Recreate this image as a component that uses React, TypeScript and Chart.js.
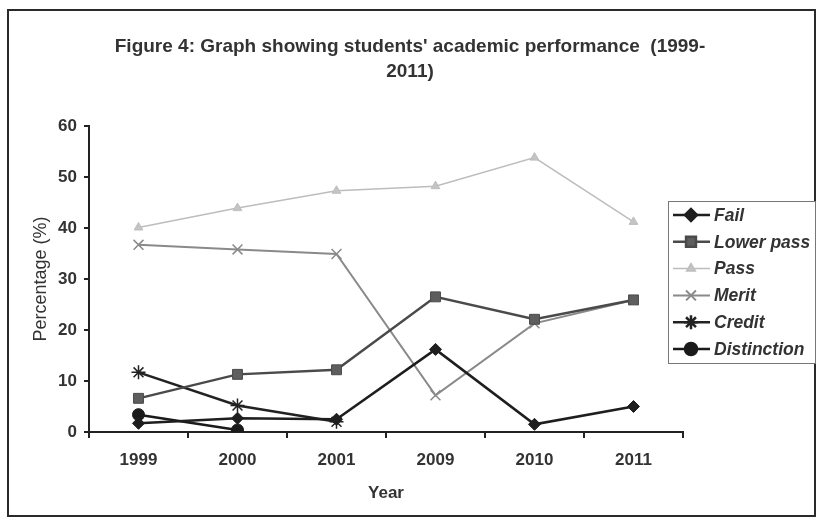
import React, { useEffect, useRef } from 'react';
import { Chart, registerables } from 'chart.js';
import { drawPoint } from 'chart.js/helpers';

Chart.register(...registerables);

const years = ['1999', '2000', '2001', '2009', '2010', '2011'];
const fail = [1.7, 2.7, 2.5, 16.2, 1.5, 5.0];
const lowerPass = [6.6, 11.3, 12.2, 26.5, 22.1, 25.9];
const pass = [40.1, 43.9, 47.3, 48.2, 53.8, 41.2];
const merit = [36.7, 35.8, 34.9, 7.2, 21.3, 25.9];
const credit = [11.7, 5.2, 2.0, null, null, null];
const distinction = [3.4, 0.4, null, null, null, null];
const yMin = 0;
const yMax = 60;
const yStep = 10;
const titleLines = ["Figure 4: Graph showing students' academic performance  (1999-", '2011)'];
const xTitle = 'Year';
const yTitle = 'Percentage (%)';

const TEXT = '#333333';

const framePlugin = {
  id: 'frameAndTitle',
  beforeDraw(chart: any) {
    const ctx = chart.ctx;
    ctx.save();
    ctx.fillStyle = '#ffffff';
    ctx.fillRect(0, 0, chart.width, chart.height);
    ctx.restore();
  },
  afterDraw(chart: any) {
    const ctx = chart.ctx;
    ctx.save();
    // outer frame
    ctx.strokeStyle = '#2a2a2a';
    ctx.lineWidth = 2;
    ctx.strokeRect(8, 10, 807, 506);
    // title
    ctx.fillStyle = TEXT;
    ctx.font = 'bold 19px "Liberation Sans", Arial, sans-serif';
    ctx.textAlign = 'center';
    ctx.textBaseline = 'middle';
    ctx.fillText(titleLines[0], 410, 47);
    ctx.fillText(titleLines[1], 410, 72);
    // legend
    const lx = 668, ly = 201, lw = 147, lh = 162;
    ctx.fillStyle = '#ffffff';
    ctx.fillRect(lx, ly, lw, lh);
    ctx.strokeStyle = '#777777';
    ctx.lineWidth = 1;
    ctx.strokeRect(lx + 0.5, ly + 0.5, lw, lh);
    chart.data.datasets.forEach((ds: any, i: number) => {
      const y = 215 + i * 26.8;
      ctx.strokeStyle = ds.borderColor;
      ctx.lineWidth = ds.borderWidth;
      ctx.beginPath();
      ctx.moveTo(673, y);
      ctx.lineTo(710, y);
      ctx.stroke();
      ctx.fillStyle = ds.pointBackgroundColor;
      ctx.strokeStyle = ds.pointBorderColor;
      drawPoint(ctx, { pointStyle: ds.pointStyle, radius: ds.pointRadius, borderWidth: ds.pointBorderWidth, rotation: 0 }, 691, y);
      ctx.fillStyle = TEXT;
      ctx.font = 'italic bold 17.5px "Liberation Sans", Arial, sans-serif';
      ctx.textAlign = 'left';
      ctx.textBaseline = 'middle';
      ctx.fillText(ds.label, 714, y + 1);
    });
    ctx.restore();
  },
};

function mk(label: string, data: any[], color: string, width: number, style: string, radius: number, fill: string, pbw: number) {
  return {
    label,
    data,
    borderColor: color,
    borderWidth: width,
    backgroundColor: fill,
    pointStyle: style,
    pointRadius: radius,
    pointBackgroundColor: fill,
    pointBorderColor: color,
    pointBorderWidth: pbw,
    tension: 0,
    spanGaps: false,
  };
}

export default function App() {
  const ref = useRef<HTMLCanvasElement>(null);
  useEffect(() => {
    document.body.style.margin = '0';
    const chart = new Chart(ref.current as HTMLCanvasElement, {
      type: 'line',
      data: {
        labels: years,
        datasets: [
          mk('Fail', fail, '#1e1e1e', 2.5, 'rectRot', 6, '#1e1e1e', 1),
          mk('Lower pass', lowerPass, '#4a4a4a', 2.5, 'rect', 7, '#5e5e5e', 1),
          mk('Pass', pass, '#bdbdbd', 1.5, 'triangle', 5, '#c4c4c4', 1),
          mk('Merit', merit, '#8a8a8a', 2, 'crossRot', 7, '#8a8a8a', 1.5),
          mk('Credit', credit, '#222222', 2.5, 'star', 7, '#222222', 1.5),
          mk('Distinction', distinction, '#1a1a1a', 2.5, 'circle', 6, '#1a1a1a', 1),
        ] as any,
      },
      options: {
        animation: false,
        responsive: false,
        layout: { padding: { top: 126, right: 137, left: 0, bottom: 0 } },
        plugins: { legend: { display: false }, title: { display: false }, tooltip: { enabled: false } },
        scales: {
          x: {
            type: 'category',
            offset: true,
            afterFit: (s: any) => { s.height = 89; },
            grid: { offset: true, drawOnChartArea: false, drawTicks: true, tickLength: 6, color: '#222', lineWidth: 2 },
            border: { color: '#222', width: 2 },
            ticks: { color: TEXT, padding: 12, font: { family: '"Liberation Sans", Arial, sans-serif', size: 17, weight: 'bold' } },
            title: { display: true, text: xTitle, color: TEXT, padding: { top: 0, bottom: 17 }, font: { family: '"Liberation Sans", Arial, sans-serif', size: 17, weight: 'bold' } },
          },
          y: {
            min: yMin,
            max: yMax,
            afterFit: (s: any) => { s.width = 89; },
            grid: { drawOnChartArea: false, drawTicks: true, tickLength: 5, color: '#222', lineWidth: 2 },
            border: { color: '#222', width: 2 },
            ticks: { stepSize: yStep, color: TEXT, padding: 7, font: { family: '"Liberation Sans", Arial, sans-serif', size: 17, weight: 'bold' } },
            title: { display: true, text: yTitle, color: TEXT, padding: { top: 30, bottom: 0 }, font: { family: '"Liberation Sans", Arial, sans-serif', size: 18, weight: 'normal' } },
          },
        },
      } as any,
      plugins: [framePlugin],
    });
    return () => chart.destroy();
  }, []);
  return <canvas ref={ref} width={820} height={521} style={{ display: 'block' }} />;
}
